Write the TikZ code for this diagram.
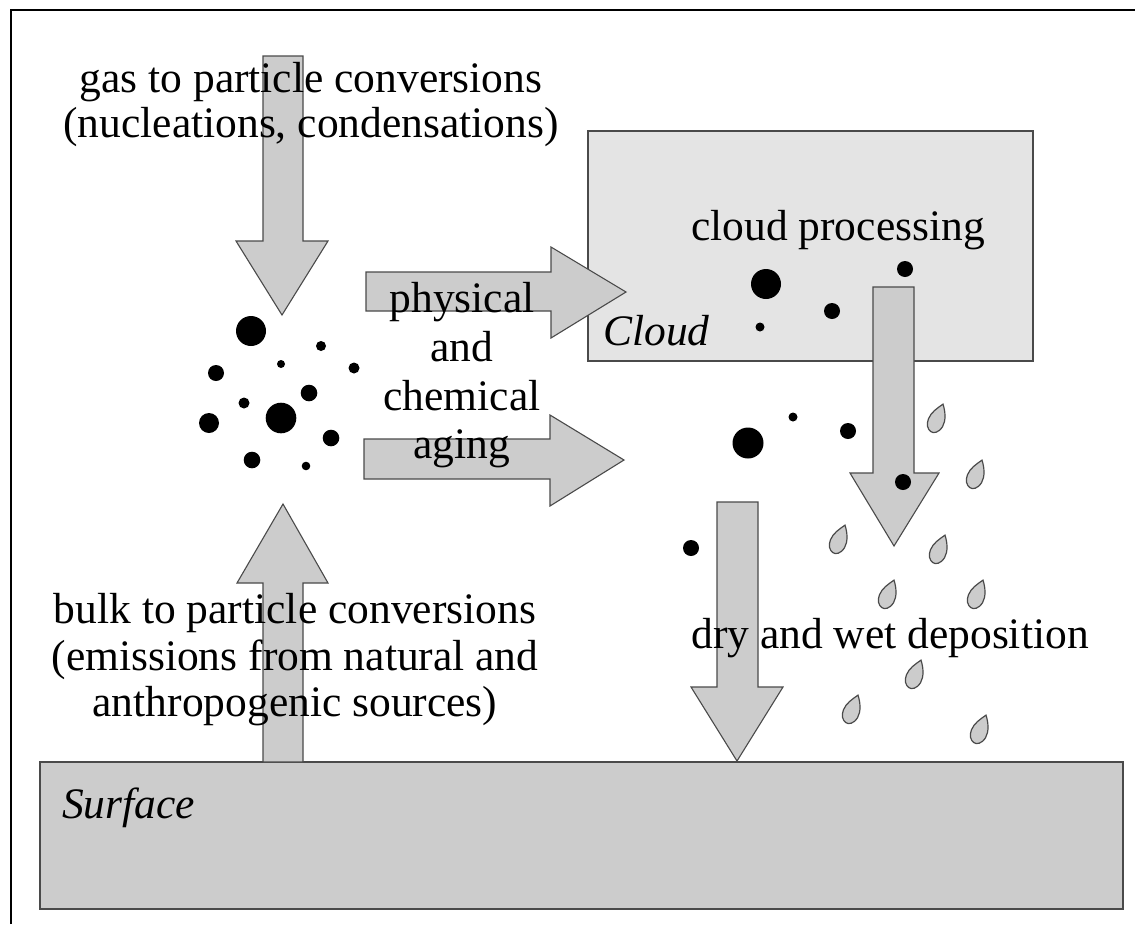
\documentclass[tikz,border=0pt]{standalone}
\usepackage{fontspec}
\setmainfont{Liberation Serif}
\definecolor{shade}{HTML}{CCCCCC}
\definecolor{cloudfill}{HTML}{E4E4E4}
\definecolor{edgegray}{HTML}{4A4A4A}
\begin{document}
\begin{tikzpicture}[x=1pt,y=-1pt,
  frameline/.style={draw=black,line width=1.6pt},
  boxshape/.style={draw=edgegray,line width=1.3pt},
  blockarrow/.style={draw=edgegray,fill=shade,line width=1.1pt,line join=miter},
  particle/.style={fill=black},
  lbl/.style={font=\fontsize{43.5}{45}\selectfont,inner sep=0pt,anchor=base},
  ilbl/.style={font=\fontsize{43.5}{45}\selectfont\itshape,inner sep=0pt,anchor=base west},
  pics/drop/.style={code={
    \draw[draw=edgegray,fill=shade,line width=1.2pt]
      (0,-16) .. controls (5,-10) and (9,-2) .. (8,5)
      .. controls (7,12) and (2,15) .. (-1,14)
      .. controls (-5,13) and (-8,9) .. (-8,3)
      .. controls (-8,-4) and (-4,-10) .. (0,-16) -- cycle;}}
]
\useasboundingbox (0,0) rectangle (1135,924);
\fill[white] (0,0) rectangle (1135,924);
% outer frame (only top and left visible)
\draw[frameline] (11,924) -- (11,10) -- (1135,10);

% cloud and surface
\draw[boxshape,fill=cloudfill] (588,131) rectangle (1033,361);
\coordinate (cloudSW) at (588,361);
\draw[boxshape,fill=shade] (40,762) rectangle (1123,909);
\coordinate (surfNW) at (40,762);

% block arrows
\draw[blockarrow] (263,56) -- (303,56) -- (303,241) -- (328,241) -- (282,315) -- (236,241) -- (263,241) -- cycle;
\draw[blockarrow] (263,762) -- (263,583) -- (237,583) -- (283,504) -- (328,583) -- (303,583) -- (303,762) -- cycle;
\draw[blockarrow] (366,272) -- (551,272) -- (551,247) -- (626,292) -- (551,338) -- (551,311) -- (366,311) -- cycle;
\draw[blockarrow] (364,439) -- (550,439) -- (550,415) -- (624,460) -- (550,506) -- (550,479) -- (364,479) -- cycle;
\draw[blockarrow] (873,287) -- (914,287) -- (914,473) -- (939,473) -- (894,546) -- (850,473) -- (873,473) -- cycle;
\draw[blockarrow] (717,502) -- (758,502) -- (758,687) -- (783,687) -- (737,761) -- (691,687) -- (717,687) -- cycle;

% particle cluster (left)
\fill[particle] (251,331) circle[radius=15pt];
\fill[particle] (321,346) circle[radius=5pt];
\fill[particle] (281,364) circle[radius=4pt];
\fill[particle] (216,373) circle[radius=8pt];
\fill[particle] (354,368) circle[radius=5.5pt];
\fill[particle] (309,393) circle[radius=8.3pt];
\fill[particle] (244,403) circle[radius=5.5pt];
\fill[particle] (281,418) circle[radius=15.3pt];
\fill[particle] (209,423) circle[radius=10pt];
\fill[particle] (331,438) circle[radius=8.3pt];
\fill[particle] (252,460) circle[radius=8.3pt];
\fill[particle] (306,466) circle[radius=4.3pt];

% particles in cloud
\fill[particle] (766,284) circle[radius=15pt];
\fill[particle] (905,269) circle[radius=8pt];
\fill[particle] (832,311) circle[radius=8pt];
\fill[particle] (760,327) circle[radius=4.5pt];

% particles below cloud
\fill[particle] (748,443) circle[radius=15.5pt];
\fill[particle] (793,417) circle[radius=4.5pt];
\fill[particle] (848,431) circle[radius=8pt];
\fill[particle] (903,482) circle[radius=8pt];
\fill[particle] (691,548) circle[radius=8pt];

% droplets
\pic[rotate=-22] at (937,419) {drop};
\pic[rotate=-22] at (976,475) {drop};
\pic[rotate=-22] at (839,540) {drop};
\pic[rotate=-22] at (939,550) {drop};
\pic[rotate=-22] at (888,595) {drop};
\pic[rotate=-22] at (977,595) {drop};
\pic[rotate=-22] at (915,675) {drop};
\pic[rotate=-22] at (852,710) {drop};
\pic[rotate=-22] at (980,730) {drop};

% texts
\node[lbl] (gasA) at (311,92) {gas to particle conversions};
\node[lbl] (gasB) at (311,137) {(nucleations, condensations)};
\node[lbl] (ageA) at (462,312) {physical};
\node[lbl] (ageB) at (462,361) {and};
\node[lbl] (ageC) at (462,410) {chemical};
\node[lbl] (ageD) at (462,458) {aging};
\node[lbl] (cproc) at (838,240) {cloud processing};
\node[ilbl] (cloudlbl) at (603,345) {Cloud};
\node[lbl] (dep) at (890,648) {dry and wet deposition};
\node[lbl] (bulkA) at (295,623) {bulk to particle conversions};
\node[lbl] (bulkB) at (295,670) {(emissions from natural and};
\node[lbl] (bulkC) at (295,716) {anthropogenic sources)};
\node[ilbl] (surflbl) at (62,818) {Surface};
\end{tikzpicture}
\end{document}
